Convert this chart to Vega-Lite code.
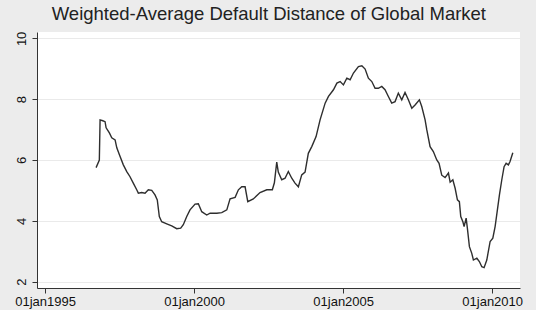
{
  "$schema": "https://vega.github.io/schema/vega-lite/v6.json",
  "width": 483,
  "height": 256,
  "autosize": {"type": "none"},
  "padding": {"left": 37, "top": 32, "right": 16, "bottom": 22},
  "background": "#ececec",
  "config": {
    "view": {"fill": "white", "stroke": null},
    "font": "Liberation Sans"
  },
  "title": {
    "text": "Weighted-Average Default Distance of Global Market",
    "fontSize": 18.5,
    "fontWeight": "normal",
    "color": "#222222",
    "anchor": "start",
    "dx": 37,
    "offset": 8
  },
  "data": {
    "values": [
      {"date": "1996-09-17", "dd": 5.75},
      {"date": "1996-10-27", "dd": 6.0},
      {"date": "1996-11-05", "dd": 7.32},
      {"date": "1996-12-08", "dd": 7.29},
      {"date": "1997-01-05", "dd": 7.26},
      {"date": "1997-01-18", "dd": 7.06},
      {"date": "1997-02-27", "dd": 6.89},
      {"date": "1997-03-28", "dd": 6.73},
      {"date": "1997-05-08", "dd": 6.66},
      {"date": "1997-05-29", "dd": 6.4},
      {"date": "1997-06-30", "dd": 6.17},
      {"date": "1997-08-17", "dd": 5.84},
      {"date": "1997-09-28", "dd": 5.62},
      {"date": "1997-11-07", "dd": 5.45},
      {"date": "1997-12-17", "dd": 5.24},
      {"date": "1998-01-28", "dd": 5.02},
      {"date": "1998-02-17", "dd": 4.91},
      {"date": "1998-03-30", "dd": 4.93},
      {"date": "1998-05-10", "dd": 4.91},
      {"date": "1998-06-19", "dd": 5.02},
      {"date": "1998-07-31", "dd": 5.0},
      {"date": "1998-09-09", "dd": 4.85},
      {"date": "1998-10-07", "dd": 4.69},
      {"date": "1998-11-01", "dd": 4.14},
      {"date": "1998-11-30", "dd": 3.97},
      {"date": "1999-01-31", "dd": 3.9},
      {"date": "1999-04-02", "dd": 3.83},
      {"date": "1999-06-02", "dd": 3.74},
      {"date": "1999-07-21", "dd": 3.76},
      {"date": "1999-08-22", "dd": 3.87},
      {"date": "1999-10-03", "dd": 4.14},
      {"date": "1999-11-12", "dd": 4.36},
      {"date": "2000-01-13", "dd": 4.55},
      {"date": "2000-02-22", "dd": 4.56},
      {"date": "2000-04-04", "dd": 4.3},
      {"date": "2000-06-04", "dd": 4.19},
      {"date": "2000-07-15", "dd": 4.25},
      {"date": "2000-10-05", "dd": 4.25},
      {"date": "2000-12-05", "dd": 4.27},
      {"date": "2001-02-05", "dd": 4.36},
      {"date": "2001-03-17", "dd": 4.72},
      {"date": "2001-05-18", "dd": 4.77},
      {"date": "2001-06-27", "dd": 5.02},
      {"date": "2001-08-07", "dd": 5.12},
      {"date": "2001-09-17", "dd": 5.12},
      {"date": "2001-10-20", "dd": 4.63},
      {"date": "2001-12-27", "dd": 4.72},
      {"date": "2002-03-19", "dd": 4.93},
      {"date": "2002-06-10", "dd": 5.02},
      {"date": "2002-08-17", "dd": 5.02},
      {"date": "2002-09-11", "dd": 5.25},
      {"date": "2002-10-10", "dd": 5.93},
      {"date": "2002-10-29", "dd": 5.6},
      {"date": "2002-12-10", "dd": 5.35},
      {"date": "2003-01-20", "dd": 5.4},
      {"date": "2003-03-01", "dd": 5.62},
      {"date": "2003-04-12", "dd": 5.4},
      {"date": "2003-05-22", "dd": 5.24},
      {"date": "2003-07-02", "dd": 5.12},
      {"date": "2003-08-12", "dd": 5.51},
      {"date": "2003-09-22", "dd": 5.6},
      {"date": "2003-11-01", "dd": 6.22},
      {"date": "2003-12-13", "dd": 6.44},
      {"date": "2004-02-04", "dd": 6.77},
      {"date": "2004-03-24", "dd": 7.32},
      {"date": "2004-05-25", "dd": 7.87},
      {"date": "2004-07-05", "dd": 8.09},
      {"date": "2004-09-04", "dd": 8.31},
      {"date": "2004-10-16", "dd": 8.53},
      {"date": "2004-11-25", "dd": 8.58},
      {"date": "2005-01-04", "dd": 8.47},
      {"date": "2005-02-15", "dd": 8.69},
      {"date": "2005-03-27", "dd": 8.64},
      {"date": "2005-05-07", "dd": 8.86},
      {"date": "2005-07-07", "dd": 9.07},
      {"date": "2005-08-18", "dd": 9.1},
      {"date": "2005-09-27", "dd": 8.99},
      {"date": "2005-11-06", "dd": 8.69},
      {"date": "2005-12-18", "dd": 8.58},
      {"date": "2006-01-27", "dd": 8.36},
      {"date": "2006-03-08", "dd": 8.36},
      {"date": "2006-04-19", "dd": 8.42},
      {"date": "2006-05-29", "dd": 8.31},
      {"date": "2006-07-09", "dd": 8.09},
      {"date": "2006-08-19", "dd": 7.87},
      {"date": "2006-09-29", "dd": 7.92},
      {"date": "2006-11-08", "dd": 8.2},
      {"date": "2006-12-20", "dd": 7.98},
      {"date": "2007-01-29", "dd": 8.22},
      {"date": "2007-03-11", "dd": 7.98},
      {"date": "2007-04-22", "dd": 7.7},
      {"date": "2007-06-01", "dd": 7.81},
      {"date": "2007-07-24", "dd": 7.98},
      {"date": "2007-08-22", "dd": 7.76},
      {"date": "2007-10-02", "dd": 7.32},
      {"date": "2007-10-23", "dd": 6.99},
      {"date": "2007-12-02", "dd": 6.44},
      {"date": "2008-01-11", "dd": 6.28},
      {"date": "2008-02-22", "dd": 6.0},
      {"date": "2008-03-21", "dd": 5.89},
      {"date": "2008-04-23", "dd": 5.5},
      {"date": "2008-06-03", "dd": 5.42},
      {"date": "2008-07-14", "dd": 5.57},
      {"date": "2008-08-04", "dd": 5.27},
      {"date": "2008-09-06", "dd": 5.35},
      {"date": "2008-10-04", "dd": 5.07},
      {"date": "2008-11-01", "dd": 4.69},
      {"date": "2008-11-25", "dd": 4.63},
      {"date": "2008-12-12", "dd": 4.14},
      {"date": "2009-01-07", "dd": 3.97},
      {"date": "2009-01-22", "dd": 3.81},
      {"date": "2009-02-16", "dd": 4.09},
      {"date": "2009-03-03", "dd": 3.76},
      {"date": "2009-03-28", "dd": 3.15},
      {"date": "2009-04-26", "dd": 2.93},
      {"date": "2009-05-16", "dd": 2.71},
      {"date": "2009-06-27", "dd": 2.77},
      {"date": "2009-07-28", "dd": 2.66},
      {"date": "2009-08-27", "dd": 2.49},
      {"date": "2009-09-24", "dd": 2.46},
      {"date": "2009-10-27", "dd": 2.71},
      {"date": "2009-12-07", "dd": 3.32},
      {"date": "2010-01-09", "dd": 3.43},
      {"date": "2010-02-06", "dd": 3.81},
      {"date": "2010-03-06", "dd": 4.36},
      {"date": "2010-03-31", "dd": 4.85},
      {"date": "2010-04-29", "dd": 5.35},
      {"date": "2010-05-27", "dd": 5.78},
      {"date": "2010-06-21", "dd": 5.89},
      {"date": "2010-07-19", "dd": 5.84},
      {"date": "2010-08-08", "dd": 5.95},
      {"date": "2010-09-11", "dd": 6.24}
    ]
  },
  "mark": {"type": "line", "color": "#2e2e2e", "strokeWidth": 1.4, "interpolate": "linear"},
  "encoding": {
    "x": {
      "field": "date",
      "type": "temporal",
      "scale": {"domain": ["1994-09-24", "2010-12-08"], "nice": false},
      "axis": {
        "title": null,
        "values": ["1995-01-01", "2000-01-01", "2005-01-01", "2010-01-01"],
        "labelExpr": "lower(timeFormat(datum.value, '%d%b%Y'))",
        "labelFontSize": 13,
        "labelColor": "#111111",
        "labelPadding": 2,
        "tickSize": 5,
        "tickColor": "#333333",
        "domainColor": "#333333",
        "grid": false,
        "labelFlush": false,
        "labelOverlap": false
      }
    },
    "y": {
      "field": "dd",
      "type": "quantitative",
      "scale": {"domain": [1.79, 10.21], "nice": false, "zero": false},
      "axis": {
        "title": null,
        "values": [2, 4, 6, 8, 10],
        "labelAngle": -90,
        "labelAlign": "center",
        "labelBaseline": "bottom",
        "labelFontSize": 13,
        "labelColor": "#111111",
        "labelPadding": 4,
        "tickSize": 5,
        "tickColor": "#333333",
        "domainColor": "#333333",
        "grid": true,
        "gridColor": "#eaeaea",
        "gridWidth": 1,
        "labelFlush": false
      }
    }
  }
}
